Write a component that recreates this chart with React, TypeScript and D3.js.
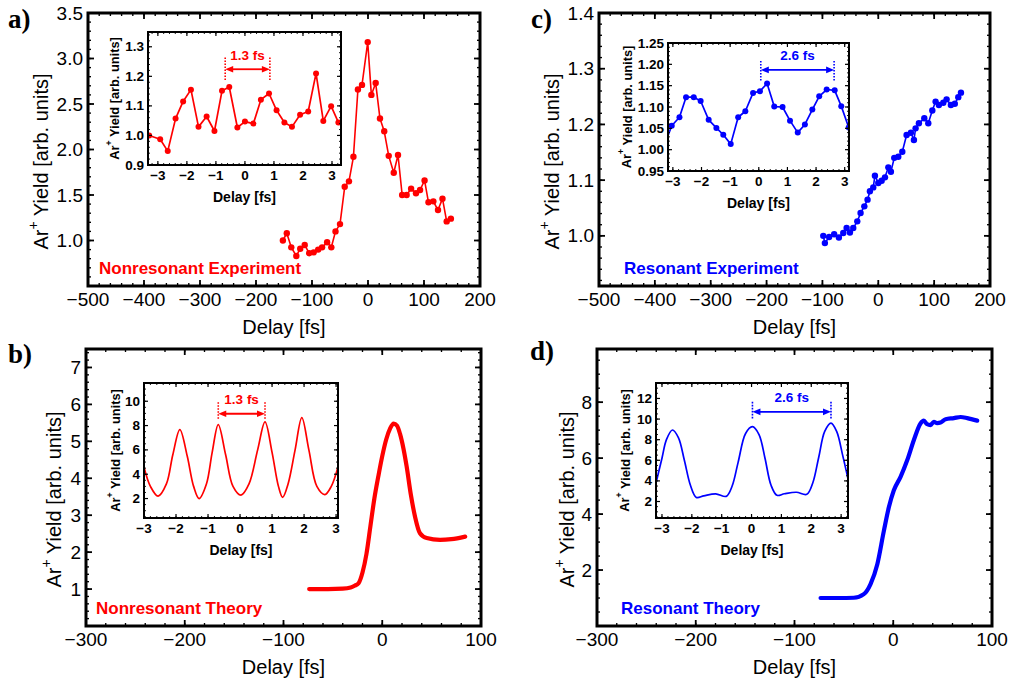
import React from 'react';
import * as d3 from 'd3';

const RED = '#ff0000';
const BLUE = '#0000ff';
const SANS = '"Liberation Sans", Arial, sans-serif';
const SERIF = '"Liberation Serif", "Times New Roman", serif';

// a) nonresonant experiment
const nrExpDelay = [-152, -145, -137, -128, -121, -113, -105, -97, -89, -82, -73, -65.5, -58, -50, -41.6, -34, -26, -18, -10.7, -0.5, 6, 13.7, 21.4, 29, 37, 46, 53.6, 61, 69, 77, 85.7, 93, 101, 108, 116.7, 125, 133, 140.5, 148];
const nrExpYield = [1.0, 1.08, 0.925, 0.83, 0.91, 0.95, 0.86, 0.87, 0.9, 0.925, 0.98, 0.925, 1.1, 1.18, 1.59, 1.65, 1.92, 2.66, 2.71, 3.18, 2.6, 2.73, 2.34, 2.2, 1.93, 1.745, 1.94, 1.5, 1.5, 1.57, 1.52, 1.555, 1.66, 1.42, 1.43, 1.335, 1.46, 1.21, 1.24];
const nrExpInsetDelay = [-3.3, -2.92, -2.66, -2.39, -2.13, -1.86, -1.6, -1.32, -1.05, -0.79, -0.54, -0.26, 0.0, 0.29, 0.55, 0.83, 1.09, 1.36, 1.62, 1.9, 2.18, 2.45, 2.7, 2.97, 3.22];
const nrExpInsetYield = [1.0, 0.987, 0.947, 1.057, 1.115, 1.155, 1.029, 1.064, 1.015, 1.151, 1.164, 1.027, 1.047, 1.04, 1.121, 1.142, 1.085, 1.044, 1.029, 1.07, 1.081, 1.21, 1.049, 1.099, 1.044];

// c) resonant experiment
const rExpDelay = [-98.5, -95.6, -88, -79, -70.5, -62.7, -56.7, -50.8, -44.8, -37.6, -31.7, -25, -19.2, -15, -9, -6, 0, 6, 12, 18, 22.6, 28.6, 35.8, 43, 50.7, 58.4, 63.8, 66.8, 72.7, 82.4, 89.5, 96.7, 102.6, 108.5, 116.4, 122.3, 130, 137, 143.2, 148];
const rExpYield = [1.0, 0.987, 0.998, 1.003, 0.997, 1.005, 1.014, 1.006, 1.014, 1.026, 1.041, 1.053, 1.065, 1.08, 1.087, 1.108, 1.095, 1.099, 1.105, 1.123, 1.115, 1.14, 1.142, 1.151, 1.181, 1.185, 1.172, 1.193, 1.202, 1.211, 1.202, 1.225, 1.241, 1.235, 1.239, 1.245, 1.235, 1.237, 1.249, 1.257];
const rExpInsetDelay = [-3.3, -3.04, -2.77, -2.54, -2.27, -2.03, -1.75, -1.48, -1.24, -0.98, -0.72, -0.47, -0.2, 0.04, 0.29, 0.54, 0.83, 1.09, 1.36, 1.61, 1.87, 2.11, 2.37, 2.65, 2.88, 3.14];
const rExpInsetYield = [1.01, 1.056, 1.076, 1.123, 1.123, 1.114, 1.07, 1.051, 1.035, 1.013, 1.076, 1.09, 1.133, 1.137, 1.155, 1.101, 1.1, 1.068, 1.04, 1.059, 1.094, 1.125, 1.141, 1.139, 1.102, 1.052];

// b) nonresonant theory
const nrThDelay = [-74, -55, -40, -32, -28, -24, -20, -16, -12, -8, -4, 0, 4, 8, 11.5, 15, 18, 21.5, 24.7, 29, 33.2, 38.2, 45, 58.5, 70, 84];
const nrThYield = [1.0, 1.0, 1.01, 1.04, 1.09, 1.16, 1.45, 1.95, 2.7, 3.45, 4.05, 4.6, 5.05, 5.35, 5.48, 5.42, 5.2, 4.8, 4.32, 3.55, 2.96, 2.51, 2.38, 2.33, 2.35, 2.42];
const nrThInsetDelay = [-3.0, -2.8, -2.56, -2.3, -2.1, -1.88, -1.65, -1.45, -1.28, -1.05, -0.87, -0.68, -0.45, -0.22, 0.03, 0.28, 0.55, 0.78, 1.0, 1.2, 1.33, 1.5, 1.72, 1.93, 2.15, 2.4, 2.65, 2.85, 3.06];
const nrThInsetYield = [4.6, 3.0, 2.2, 3.2, 5.6, 7.67, 5.5, 3.0, 2.0, 3.2, 5.8, 8.08, 5.6, 3.0, 2.28, 3.2, 6.0, 8.3, 5.8, 3.0, 2.1, 3.2, 6.0, 8.65, 6.0, 3.0, 2.33, 3.0, 4.6];

// d) resonant theory
const rThDelay = [-73.6, -55, -40, -29.8, -23, -16.2, -9.5, -4.4, 0.6, 7.4, 14.2, 20.9, 27.6, 31, 34, 37.8, 41.1, 44.5, 47.9, 53, 61.4, 68.2, 75, 85];
const rThYield = [1.0, 1.0, 1.01, 1.14, 1.5, 2.2, 3.4, 4.25, 4.85, 5.33, 5.93, 6.65, 7.24, 7.34, 7.22, 7.18, 7.3, 7.25, 7.27, 7.39, 7.43, 7.47, 7.43, 7.34];
const rThInsetDelay = [-3.2, -3.0, -2.85, -2.65, -2.45, -2.25, -2.05, -1.85, -1.6, -1.2, -0.85, -0.65, -0.45, -0.2, 0.03, 0.25, 0.45, 0.65, 0.85, 1.1, 1.5, 1.85, 2.05, 2.25, 2.45, 2.66, 2.85, 3.05, 3.23];
const rThInsetYield = [3.8, 6.2, 8.0, 8.94, 8.2, 6.0, 3.6, 2.4, 2.55, 2.75, 2.5, 3.5, 5.8, 8.6, 9.26, 8.5, 6.2, 3.6, 2.6, 2.75, 2.9, 2.7, 3.8, 6.3, 8.8, 9.6, 8.8, 6.5, 4.2];

// tick labels
const longDelayTicks = [-500, -400, -300, -200, -100, 0, 100, 200];
const shortDelayTicks = [-300, -200, -100, 0, 100];
const insetDelayTicks = [-3, -2, -1, 0, 1, 2, 3];
const aYTicks = [1.0, 1.5, 2.0, 2.5, 3.0, 3.5];
const cYTicks = [1.0, 1.1, 1.2, 1.3, 1.4];
const bYTicks = [1, 2, 3, 4, 5, 6, 7];
const dYTicks = [2, 4, 6, 8];
const aInsetYTicks = [0.9, 1.0, 1.1, 1.2, 1.3];
const cInsetYTicks = [0.95, 1.0, 1.05, 1.1, 1.15, 1.2, 1.25];
const bInsetYTicks = [2, 4, 6, 8, 10];
const dInsetYTicks = [2, 4, 6, 8, 10, 12];

type Box = { l: number; t: number; r: number; b: number };
const zip = (xs: number[], ys: number[]) => xs.map((x, i) => [x, ys[i]] as [number, number]);
const minus = (s: string) => s.replace('-', '\u2212');

function Frame({ box, sx, sy, xMajor, xMinor, yMajor, yMinor, len, sw }: any) {
  const mlen = len * 0.5;
  const inX = (v: number) => v >= sx.domain()[0] - 1e-9 && v <= sx.domain()[1] + 1e-9;
  const inY = (v: number) => v >= sy.domain()[0] - 1e-9 && v <= sy.domain()[1] + 1e-9;
  const ls: any[] = [];
  const tick = (k: string, x1: number, y1: number, x2: number, y2: number, w: number) =>
    ls.push(<line key={k} x1={x1} y1={y1} x2={x2} y2={y2} stroke="#000" strokeWidth={w} />);
  xMajor.filter(inX).forEach((v: number, i: number) => {
    const x = sx(v);
    tick('xb' + i, x, box.b, x, box.b - len, sw * 0.6);
    tick('xt' + i, x, box.t, x, box.t + len, sw * 0.6);
  });
  xMinor.filter(inX).forEach((v: number, i: number) => {
    const x = sx(v);
    tick('xbm' + i, x, box.b, x, box.b - mlen, sw * 0.45);
    tick('xtm' + i, x, box.t, x, box.t + mlen, sw * 0.45);
  });
  yMajor.filter(inY).forEach((v: number, i: number) => {
    const y = sy(v);
    tick('yl' + i, box.l, y, box.l + len, y, sw * 0.6);
    tick('yr' + i, box.r, y, box.r - len, y, sw * 0.6);
  });
  yMinor.filter(inY).forEach((v: number, i: number) => {
    const y = sy(v);
    tick('ylm' + i, box.l, y, box.l + mlen, y, sw * 0.45);
    tick('yrm' + i, box.r, y, box.r - mlen, y, sw * 0.45);
  });
  return (
    <g>
      {ls}
      <rect x={box.l} y={box.t} width={box.r - box.l} height={box.b - box.t} fill="none" stroke="#000" strokeWidth={sw} />
    </g>
  );
}

function YTitle({ x, y, fs, bold }: { x: number; y: number; fs: number; bold?: boolean }) {
  return (
    <text transform={`translate(${x},${y}) rotate(-90)`} textAnchor="middle" dominantBaseline="central"
      fontFamily={SANS} fontSize={fs} fontWeight={bold ? 'bold' : 'normal'}>
      Ar<tspan dy={-fs * 0.42} fontSize={fs * 0.7}>+</tspan>
      <tspan dy={fs * 0.42}> Yield [arb. units]</tspan>
    </text>
  );
}

function Arrow({ x1, x2, y, color }: any) {
  const h = 8, w = 3.3;
  return (
    <g>
      <line x1={x1 + h - 1} x2={x2 - h + 1} y1={y} y2={y} stroke={color} strokeWidth={1.8} />
      <path d={`M${x1},${y}L${x1 + h},${y - w}L${x1 + h},${y + w}Z`} fill={color} />
      <path d={`M${x2},${y}L${x2 - h},${y - w}L${x2 - h},${y + w}Z`} fill={color} />
    </g>
  );
}

function Panel({ p }: { p: any }) {
  const sx = d3.scaleLinear().domain(p.xDomain).range([p.box.l, p.box.r]);
  const sy = d3.scaleLinear().domain(p.yDomain).range([p.box.b, p.box.t]);
  const ix = d3.scaleLinear().domain(p.inset.xDomain).range([p.inset.box.l, p.inset.box.r]);
  const iy = d3.scaleLinear().domain(p.inset.yDomain).range([p.inset.box.b, p.inset.box.t]);
  const mainLine = d3.line().x(d => sx(d[0])).y(d => sy(d[1]))
    .curve(p.dots ? d3.curveLinear : d3.curveMonotoneX);
  const insetLine = d3.line().x(d => ix(d[0])).y(d => iy(d[1]))
    .curve(p.dots ? d3.curveLinear : d3.curveCatmullRom.alpha(0.5));
  const ib: Box = p.inset.box;
  const clipId = 'clip-' + p.letter;
  const ar = p.inset.arrow;
  return (
    <g>
      <text x={p.letterPos[0]} y={p.letterPos[1]} dominantBaseline="central" fontFamily={SERIF}
        fontWeight="bold" fontSize={27}>{p.letter})</text>
      <Frame box={p.box} sx={sx} sy={sy} xMajor={p.xTicks} xMinor={p.xMinor} yMajor={p.yTicks}
        yMinor={p.yMinor} len={6} sw={3} />
      {p.xTicks.map((v: number) => (
        <text key={'xl' + v} x={sx(v)} y={p.box.b + 13} textAnchor="middle" dominantBaseline="central"
          fontFamily={SANS} fontSize={19}>{minus(String(v))}</text>
      ))}
      {p.yTicks.map((v: number) => (
        <text key={'yl' + v} x={p.box.l - 5} y={sy(v)} textAnchor="end" dominantBaseline="central"
          fontFamily={SANS} fontSize={19}>{p.yFmt(v)}</text>
      ))}
      <text x={(p.box.l + p.box.r) / 2} y={p.box.b + 41} textAnchor="middle" dominantBaseline="central"
        fontFamily={SANS} fontSize={20}>Delay [fs]</text>
      <YTitle x={p.yTitleX} y={(p.box.t + p.box.b) / 2 + 12} fs={20} />
      <path d={mainLine(p.main) as string} fill="none" stroke={p.color} strokeWidth={p.dots ? 1.6 : 4.2}
        strokeLinejoin="round" strokeLinecap="round" />
      {p.dots && p.main.map((d: number[], i: number) => (
        <circle key={'md' + i} cx={sx(d[0])} cy={sy(d[1])} r={3.2} fill={p.color} />
      ))}
      <text x={p.box.l + p.tagDx} y={p.box.b - 18} dominantBaseline="central" fontFamily={SANS}
        fontWeight="bold" fontSize={17} fill={p.color}>{p.tag}</text>

      {/* inset */}
      <defs>
        <clipPath id={clipId}>
          <rect x={ib.l} y={ib.t} width={ib.r - ib.l} height={ib.b - ib.t} />
        </clipPath>
      </defs>
      <rect x={ib.l} y={ib.t} width={ib.r - ib.l} height={ib.b - ib.t} fill="#fff" />
      <g clipPath={`url(#${clipId})`}>
        <path d={insetLine(p.inset.data) as string} fill="none" stroke={p.color}
          strokeWidth={1.7} strokeLinejoin="round" />
        {p.dots && p.inset.data.map((d: number[], i: number) => (
          <circle key={'id' + i} cx={ix(d[0])} cy={iy(d[1])} r={3} fill={p.color} />
        ))}
      </g>
      <Frame box={ib} sx={ix} sy={iy} xMajor={insetDelayTicks} xMinor={p.inset.xMinor}
        yMajor={p.inset.yTicks} yMinor={p.inset.yMinor} len={4} sw={2} />
      {insetDelayTicks.map((v) => (
        <text key={'ixl' + v} x={ix(v)} y={ib.b + 10} textAnchor="middle" dominantBaseline="central"
          fontFamily={SANS} fontWeight="bold" fontSize={13.5}>{minus(String(v))}</text>
      ))}
      {p.inset.yTicks.map((v: number) => (
        <text key={'iyl' + v} x={ib.l - 4} y={iy(v)} textAnchor="end" dominantBaseline="central"
          fontFamily={SANS} fontWeight="bold" fontSize={13.5}>{p.inset.yFmt(v)}</text>
      ))}
      <text x={(ib.l + ib.r) / 2} y={ib.b + 31.5} textAnchor="middle" dominantBaseline="central"
        fontFamily={SANS} fontWeight="bold" fontSize={14}>Delay [fs]</text>
      <YTitle x={p.inset.yTitleX} y={(ib.t + ib.b) / 2} fs={12.8} bold />
      {[ar.x1, ar.x2].map((v: number, i: number) => (
        <line key={'dot' + i} x1={ix(v)} x2={ix(v)} y1={iy(ar.yTop)} y2={iy(ar.yBot)} stroke={p.color}
          strokeWidth={1.6} strokeDasharray="1.6,1.4" />
      ))}
      <Arrow x1={ix(ar.x1)} x2={ix(ar.x2)} y={iy(ar.y)} color={p.color} />
      <text x={(ix(ar.x1) + ix(ar.x2)) / 2} y={iy(ar.y) - 14} textAnchor="middle" dominantBaseline="central"
        fontFamily={SANS} fontWeight="bold" fontSize={13.5} fill={p.color}>{ar.label}</text>
    </g>
  );
}

const f1 = d3.format('.1f');
const f2 = d3.format('.2f');
const f0 = (v: number) => String(v);

const panels = [
  {
    letter: 'a', letterPos: [8, 19], color: RED, dots: true,
    box: { l: 88, t: 13, r: 480, b: 286 }, xDomain: [-500, 200], yDomain: [0.5, 3.5],
    xTicks: longDelayTicks, xMinor: d3.range(-500, 201, 20), yTicks: aYTicks, yMinor: d3.range(0.5, 3.51, 0.1),
    yFmt: f1, yTitleX: 41, tag: 'Nonresonant Experiment', tagDx: 11,
    main: zip(nrExpDelay, nrExpYield),
    inset: {
      box: { l: 148, t: 32, r: 341, b: 165 }, xDomain: [-3.34, 3.31], yDomain: [0.9, 1.35],
      xMinor: d3.range(-3.2, 3.21, 0.2), yTicks: aInsetYTicks, yMinor: d3.range(0.9, 1.351, 0.02), yFmt: f1,
      yTitleX: 114, data: zip(nrExpInsetDelay, nrExpInsetYield),
      arrow: { x1: -0.68, x2: 0.86, y: 1.224, yTop: 1.264, yBot: 1.188, label: '1.3 fs' },
    },
  },
  {
    letter: 'c', letterPos: [531, 19], color: BLUE, dots: true,
    box: { l: 599, t: 13, r: 990, b: 286 }, xDomain: [-500, 200], yDomain: [0.91, 1.4],
    xTicks: longDelayTicks, xMinor: d3.range(-500, 201, 20), yTicks: cYTicks, yMinor: d3.range(0.92, 1.401, 0.02),
    yFmt: f1, yTitleX: 552, tag: 'Resonant Experiment', tagDx: 25,
    main: zip(rExpDelay, rExpYield),
    inset: {
      box: { l: 668, t: 43, r: 849, b: 171 }, xDomain: [-3.17, 3.15], yDomain: [0.95, 1.25],
      xMinor: d3.range(-3.2, 3.21, 0.2), yTicks: cInsetYTicks, yMinor: d3.range(0.95, 1.251, 0.01), yFmt: f2,
      yTitleX: 626.5, data: zip(rExpInsetDelay, rExpInsetYield),
      arrow: { x1: 0.07, x2: 2.63, y: 1.187, yTop: 1.208, yBot: 1.161, label: '2.6 fs' },
    },
  },
  {
    letter: 'b', letterPos: [8, 354], color: RED, dots: false,
    box: { l: 86, t: 349, r: 481, b: 626 }, xDomain: [-300, 100], yDomain: [0, 7.5],
    xTicks: shortDelayTicks, xMinor: d3.range(-300, 101, 20), yTicks: bYTicks, yMinor: d3.range(0, 7.51, 0.2),
    yFmt: f0, yTitleX: 54, tag: 'Nonresonant Theory', tagDx: 10,
    main: zip(nrThDelay, nrThYield),
    inset: {
      box: { l: 144, t: 383, r: 338, b: 518 }, xDomain: [-3, 3.06], yDomain: [0.4, 11.5],
      xMinor: d3.range(-3, 3.01, 0.2), yTicks: bInsetYTicks, yMinor: d3.range(0.5, 11.51, 0.5), yFmt: f0,
      yTitleX: 115, data: zip(nrThInsetDelay, nrThInsetYield),
      arrow: { x1: -0.68, x2: 0.78, y: 8.97, yTop: 9.92, yBot: 8.43, label: '1.3 fs' },
    },
  },
  {
    letter: 'd', letterPos: [530, 351], color: BLUE, dots: false,
    box: { l: 597, t: 349, r: 992, b: 626 }, xDomain: [-300, 100], yDomain: [0, 9.9],
    xTicks: shortDelayTicks, xMinor: d3.range(-300, 101, 20), yTicks: dYTicks, yMinor: d3.range(0, 9.91, 0.5),
    yFmt: f0, yTitleX: 567, tag: 'Resonant Theory', tagDx: 24,
    main: zip(rThDelay, rThYield),
    inset: {
      box: { l: 656, t: 383, r: 848, b: 518 }, xDomain: [-3.2, 3.23], yDomain: [0.4, 13.5],
      xMinor: d3.range(-3.2, 3.21, 0.2), yTicks: dInsetYTicks, yMinor: d3.range(0.5, 13.51, 0.5), yFmt: f0,
      yTitleX: 624.5, data: zip(rThInsetDelay, rThInsetYield),
      arrow: { x1: 0.03, x2: 2.66, y: 10.7, yTop: 11.67, yBot: 9.97, label: '2.6 fs' },
    },
  },
];

export default function App() {
  return (
    <svg width={1011} height={683} style={{ position: 'absolute', left: 0, top: 0, background: '#fff' }}>
      <rect width={1011} height={683} fill="#fff" />
      {panels.map((p) => <Panel key={p.letter} p={p} />)}
    </svg>
  );
}
